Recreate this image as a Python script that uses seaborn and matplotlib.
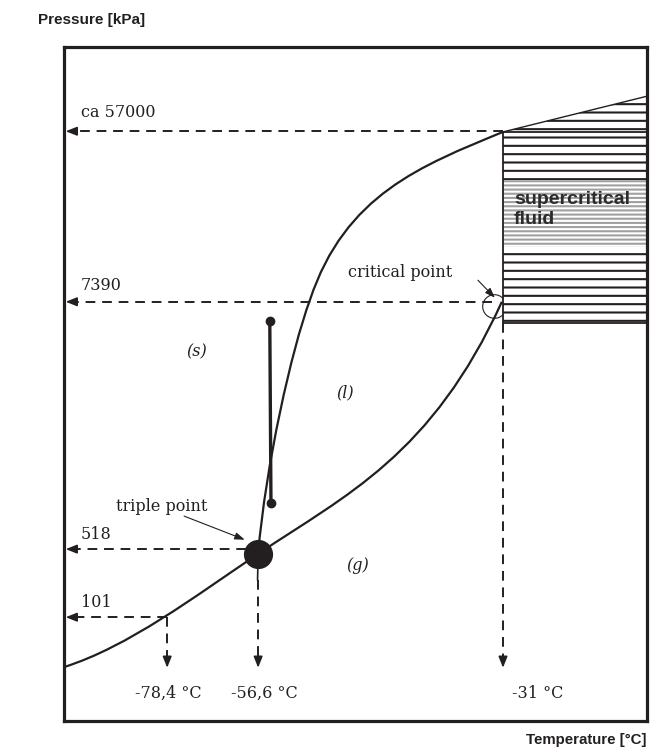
import matplotlib
matplotlib.use("Agg")
import matplotlib.pyplot as plt
from matplotlib.path import Path
from matplotlib.patches import PathPatch
import seaborn as sns
import pandas as pd

# schematic coordinates: temperature axis 0..100, pressure axis 0..100
# phase boundaries as cubic Bezier control points (start, ctrl, ctrl, end, ctrl, ctrl, end)
sub_T = [0, 11.0, 22.3, 33.3, 48.3, 63.1, 75.1]
sub_P = [8.0, 11.0, 18.4, 24.8, 33.5, 39.4, 62.2]

melt_T = [33.3, 34.6, 39.0, 42.2, 48.2, 61.3, 75.3]
melt_P = [24.8, 38.0, 55.0, 62.5, 78.1, 82.4, 87.4]

upper_T = [75.3, 100]
upper_P = [87.4, 92.7]

sc_T = [75.3, 100]
sc_P_low = 59.05
sc_band = [70.3, 80.3]

triple = (33.3, 24.8)
critical = (73.8, 61.6)
stick_T = [35.3, 35.5]
stick_P = [59.3, 32.3]

p_labels = ["ca 57000", "7390", "518", "101"]
p_levels = [87.5, 62.2, 25.5, 15.4]
p_from = [75.3, 73.4, 31.2, 17.7]
p_text_y = [90.3, 64.6, 27.6, 17.6]

t_labels = ["-78,4 °C", "-56,6 °C", "-31 °C"]
t_pos = [17.7, 33.3, 75.3]
t_from = [15.4, 20.9, 59.05]
t_text_x = [17.9, 34.3, 76.9]
arrow_end = 7.9

phases = ["(s)", "(l)", "(g)"]
phase_T = [22.8, 48.2, 50.4]
phase_P = [54.7, 48.7, 23.0]

ink = "#231f20"
serif = ["DejaVu Serif"]
sans = ["Liberation Sans", "DejaVu Sans"]

sns.set_theme(style="white")
plt.rcParams["font.family"] = serif
plt.rcParams["hatch.linewidth"] = 1.5

fig = plt.figure(figsize=(6.58, 7.56), dpi=100)
ax = fig.add_axes([64 / 658, 35 / 756, 583 / 658, 674 / 756])
ax.set_xlim(0, 100)
ax.set_ylim(0, 100)
ax.set_xticks([])
ax.set_yticks([])
for s in ax.spines.values():
    s.set_linewidth(2.3)
    s.set_color(ink)
    s.set_zorder(10)

# supercritical region
ax.fill_between(sc_T, [sc_P_low, sc_P_low], upper_P, facecolor="white",
                edgecolor=ink, hatch="--", linewidth=0, zorder=2)
ax.fill_between(sc_T, [sc_band[0]] * 2, [sc_band[1]] * 2, facecolor="white",
                edgecolor="#a0a0a0", hatch="----", linewidth=0, zorder=3)
ax.plot([sc_T[0], sc_T[0], sc_T[1]], [upper_P[0], sc_P_low, sc_P_low],
        color=ink, lw=1.3, zorder=4)
ax.plot(sc_T, [upper_P[0], upper_P[0]], color=ink, lw=1.3, zorder=4)
ax.text(sc_T[0] + 1.9, sum(sc_band) / 2 + 0.6, "supercritical\nfluid",
        family=sans, fontweight="bold", fontsize=14, color="#2b2b2b",
        va="center", ha="left", linespacing=1.2, zorder=5)

# phase boundaries (smooth Bezier curves in data coordinates)
codes = [Path.MOVETO] + [Path.CURVE4] * 6
for xs, ys in [(sub_T, sub_P), (melt_T, melt_P)]:
    ax.add_patch(PathPatch(Path(list(zip(xs, ys)), codes), fill=False,
                           edgecolor=ink, lw=1.6, zorder=5))
upper = pd.DataFrame({"T": upper_T, "P": upper_P})
sns.lineplot(data=upper, x="T", y="P", color=ink, lw=1.0, ax=ax, zorder=5)

# solid stick with end dots
ax.plot(stick_T, stick_P, color=ink, lw=2.4, marker="o", ms=6, zorder=6)

# triple and critical points
ax.plot(*triple, marker="o", ms=20, color=ink, zorder=7)
ax.plot(*critical, marker="o", ms=17, mfc="none", mec=ink, mew=0.8, zorder=1)

dash = dict(color=ink, lw=1.4, ls=(0, (5, 3.5)), zorder=4)
head = dict(arrowstyle="-|>,head_length=0.55,head_width=0.22", color=ink,
            lw=1.2, shrinkA=0, shrinkB=0)

for lab, y, x0, ty in zip(p_labels, p_levels, p_from, p_text_y):
    ax.plot([x0, 1.5], [y, y], **dash)
    ax.annotate("", xy=(0.3, y), xytext=(2.0, y), arrowprops=head, zorder=6)
    ax.text(2.9, ty, lab, fontsize=11.5, color=ink, va="center", ha="left")

for i, (lab, x, y0, tx) in enumerate(zip(t_labels, t_pos, t_from, t_text_x)):
    ax.plot([x, x], [y0, arrow_end + 1.5], **dash)
    ax.annotate("", xy=(x, arrow_end), xytext=(x, arrow_end + 1.8),
                arrowprops=head, zorder=6)
    ax.text(tx, 4.1, lab, fontsize=11.5, color=ink, va="center",
            ha="left" if i == 2 else "center")
# short solid stub below triple point
ax.plot([t_pos[1], t_pos[1] - 0.1], [triple[1], t_from[1]], color=ink, lw=1.2, zorder=5)

# annotations
small_head = dict(arrowstyle="-|>,head_length=0.5,head_width=0.18",
                  color=ink, lw=0.8, shrinkA=0, shrinkB=0)
ax.text(16.8, 31.8, "triple point", fontsize=11.5, color=ink, ha="center", va="center")
ax.annotate("", xy=(31.0, 26.9), xytext=(20.6, 30.4), arrowprops=small_head)
ax.text(57.6, 66.6, "critical point", fontsize=11.5, color=ink, ha="center", va="center")
ax.annotate("", xy=(73.9, 62.8), xytext=(71.0, 65.4), arrowprops=small_head, zorder=8)

for lab, x, y in zip(phases, phase_T, phase_P):
    ax.text(x, y, lab, fontsize=11.5, style="italic", color=ink,
            ha="center", va="center")

fig.text(38 / 658, 1 - 20 / 756, "Pressure [kPa]", family=sans,
         fontweight="bold", fontsize=11, color=ink, ha="left", va="center")
fig.text(646 / 658, 1 - 740 / 756, "Temperature [°C]", family=sans,
         fontweight="bold", fontsize=10.8, color=ink, ha="right", va="center")

fig.savefig("out.png", dpi=100)
